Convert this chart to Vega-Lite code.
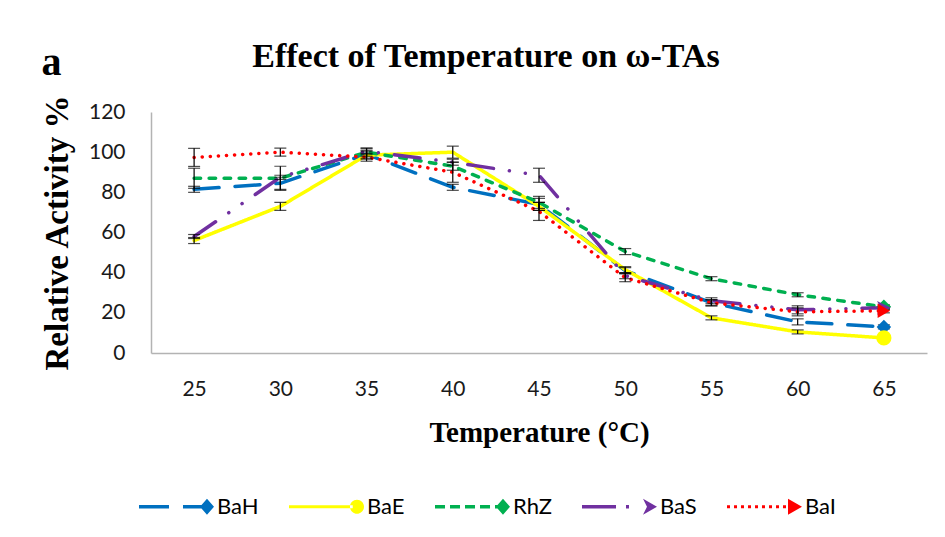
{
  "$schema": "https://vega.github.io/schema/vega-lite/v6.json",
  "background": "white",
  "padding": {"left": 41, "top": 40, "right": 5, "bottom": 5},
  "title": {"text": "a", "anchor": "start", "frame": "bounds", "font": "Liberation Serif", "fontSize": 40, "fontWeight": "bold", "color": "#000000", "offset": -43, "dx": 0},
  "config": {
    "view": {"stroke": null},
    "axis": {"domainColor": "#B3B3B3", "domainWidth": 1.5, "ticks": false, "grid": false, "labelFont": "Lato", "labelFontSize": 21, "labelColor": "#1a1a1a", "titleFont": "Liberation Serif", "titleFontWeight": "bold", "titleColor": "#000000"},
    "legend": {"labelFont": "Lato", "labelFontSize": 22, "labelColor": "#000000"}
  },
  "datasets": {
    "d": [
      {"temp": 25, "series": "BaH", "value": 81.5, "err": 1.5},
      {"temp": 30, "series": "BaH", "value": 84.5, "err": 3},
      {"temp": 35, "series": "BaH", "value": 99, "err": 2},
      {"temp": 40, "series": "BaH", "value": 82.5, "err": 1.5},
      {"temp": 45, "series": "BaH", "value": 74, "err": 3},
      {"temp": 50, "series": "BaH", "value": 41, "err": 1.5},
      {"temp": 55, "series": "BaH", "value": 25, "err": 1.5},
      {"temp": 60, "series": "BaH", "value": 15.5, "err": 1.5},
      {"temp": 65, "series": "BaH", "value": 13, "err": 1},
      {"temp": 25, "series": "BaE", "value": 56, "err": 1.5},
      {"temp": 30, "series": "BaE", "value": 73, "err": 2},
      {"temp": 35, "series": "BaE", "value": 98.5, "err": 2},
      {"temp": 40, "series": "BaE", "value": 100, "err": 3},
      {"temp": 45, "series": "BaE", "value": 73, "err": 2},
      {"temp": 50, "series": "BaE", "value": 41.5, "err": 1.5},
      {"temp": 55, "series": "BaE", "value": 17.5, "err": 1},
      {"temp": 60, "series": "BaE", "value": 10.5, "err": 1},
      {"temp": 65, "series": "BaE", "value": 7.5, "err": 1},
      {"temp": 25, "series": "RhZ", "value": 87, "err": 5},
      {"temp": 30, "series": "RhZ", "value": 87, "err": 6},
      {"temp": 35, "series": "RhZ", "value": 100, "err": 2},
      {"temp": 40, "series": "RhZ", "value": 93, "err": 2},
      {"temp": 45, "series": "RhZ", "value": 75, "err": 3},
      {"temp": 50, "series": "RhZ", "value": 50.5, "err": 1.5},
      {"temp": 55, "series": "RhZ", "value": 37, "err": 1},
      {"temp": 60, "series": "RhZ", "value": 29, "err": 1},
      {"temp": 65, "series": "RhZ", "value": 23, "err": 1},
      {"temp": 25, "series": "BaS", "value": 58, "err": 1},
      {"temp": 30, "series": "BaS", "value": 87.5, "err": 1},
      {"temp": 35, "series": "BaS", "value": 100.5, "err": 1.5},
      {"temp": 40, "series": "BaS", "value": 95, "err": 1.5},
      {"temp": 45, "series": "BaS", "value": 88.5, "err": 3.5},
      {"temp": 50, "series": "BaS", "value": 38.5, "err": 1.5},
      {"temp": 55, "series": "BaS", "value": 26, "err": 1.5},
      {"temp": 60, "series": "BaS", "value": 21.5, "err": 2},
      {"temp": 65, "series": "BaS", "value": 22.5, "err": 1},
      {"temp": 25, "series": "BaI", "value": 97.4, "err": 4.5},
      {"temp": 30, "series": "BaI", "value": 100, "err": 2},
      {"temp": 35, "series": "BaI", "value": 97.5, "err": 2},
      {"temp": 40, "series": "BaI", "value": 90, "err": 5},
      {"temp": 45, "series": "BaI", "value": 70.5, "err": 4.5},
      {"temp": 50, "series": "BaI", "value": 37.5, "err": 2},
      {"temp": 55, "series": "BaI", "value": 25, "err": 1.5},
      {"temp": 60, "series": "BaI", "value": 20.5, "err": 2},
      {"temp": 65, "series": "BaI", "value": 21, "err": 1}
    ]
  },
  "vconcat": [
    {
      "title": {"text": "Effect of Temperature on ω-TAs", "font": "Liberation Serif", "fontSize": 34, "fontWeight": "bold", "color": "#000000", "anchor": "middle", "frame": "group", "offset": 20, "dx": -53},
      "width": 776,
      "height": 241,
      "data": {"name": "d"},
      "encoding": {
        "x": {"field": "temp", "type": "ordinal", "scale": {"type": "point", "padding": 0.5}, "axis": {"labelAngle": 0, "labelPadding": 25, "title": "Temperature (°C)", "titleFontSize": 29, "titlePadding": 19}},
        "y": {"field": "value", "type": "quantitative", "scale": {"domain": [0, 120], "nice": false}, "axis": {"values": [0, 20, 40, 60, 80, 100, 120], "labelPadding": 26, "title": "Relative Activity %", "titleFontSize": 33, "titlePadding": 14}}
      },
      "layer": [
        {
          "mark": {"type": "line", "strokeWidth": 3.5, "strokeCap": "round", "strokeJoin": "round"},
          "encoding": {
            "stroke": {"field": "series", "type": "nominal", "scale": {"domain": ["BaH", "BaE", "RhZ", "BaS", "BaI"], "range": ["#0070C0", "#FFFF00", "#00B050", "#7030A0", "#FF0000"]}, "legend": {"title": null, "orient": "none", "direction": "horizontal", "legendX": -12, "legendY": 357, "symbolSize": 5625, "symbolStrokeWidth": 0, "symbolOpacity": 1, "columnPadding": 30, "labelOffset": 3}},
            "strokeDash": {"field": "series", "type": "nominal", "scale": {"domain": ["BaH", "BaE", "RhZ", "BaS", "BaI"], "range": [[25, 16], [1, 0], [6.5, 8.5], [26, 16, 0.1, 16, 0.1, 16], [0.1, 8]]}, "legend": {"title": null, "orient": "none", "direction": "horizontal", "legendX": -12, "legendY": 357, "symbolSize": 5625, "symbolStrokeWidth": 0, "symbolOpacity": 1, "columnPadding": 30, "labelOffset": 3}}
          }
        },
        {
          "mark": {"type": "errorbar", "color": "#000000", "thickness": 1.2, "ticks": {"size": 12, "color": "#000000", "thickness": 1.2}},
          "encoding": {"yError": {"field": "err"}}
        },
        {
          "transform": [{"filter": "datum.temp == 65 && datum.series == 'BaH'"}],
          "mark": {"type": "point", "filled": true, "shape": "diamond", "size": 210, "opacity": 1, "color": "#0070C0"}
        },
        {
          "transform": [{"filter": "datum.temp == 65 && datum.series == 'BaE'"}],
          "mark": {"type": "point", "filled": true, "shape": "circle", "size": 230, "opacity": 1, "color": "#FFFF00"}
        },
        {
          "transform": [{"filter": "datum.temp == 65 && datum.series == 'RhZ'"}],
          "mark": {"type": "point", "filled": true, "shape": "diamond", "size": 210, "opacity": 1, "color": "#00B050"}
        },
        {
          "transform": [{"filter": "datum.temp == 65 && datum.series == 'BaS'"}],
          "mark": {"type": "point", "filled": true, "shape": "M-1,-1L1,0L-1,1L-0.5,0Z", "size": 190, "opacity": 1, "color": "#7030A0"}
        },
        {
          "transform": [{"filter": "datum.temp == 65 && datum.series == 'BaI'"}],
          "mark": {"type": "point", "filled": true, "shape": "triangle-right", "size": 210, "opacity": 1, "color": "#FF0000"}
        },
        {
          "transform": [{"filter": "datum.temp == 70"}],
          "mark": {"type": "point", "filled": true},
          "encoding": {
            "fill": {"field": "series", "type": "nominal", "scale": {"domain": ["BaH", "BaE", "RhZ", "BaS", "BaI"], "range": ["#0070C0", "#FFFF00", "#00B050", "#7030A0", "#FF0000"]}, "legend": {"title": null, "orient": "none", "direction": "horizontal", "legendX": -12, "legendY": 357, "symbolSize": 5625, "symbolStrokeWidth": 0, "symbolOpacity": 1, "columnPadding": 30, "labelOffset": 3}},
            "shape": {"field": "series", "type": "nominal", "scale": {"domain": ["BaH", "BaE", "RhZ", "BaS", "BaI"], "range": [
              "M-1,-0.045H-0.2V0.045H-1Z M0.173,-0.045H0.76V0.045H0.173Z M0.813,-0.213L1,0L0.813,0.213L0.626,0Z",
              "M-1,-0.04H0.7V0.04H-1Z M0.626,0A0.187,0.187 0 1,0 1,0A0.187,0.187 0 1,0 0.626,0Z",
              "M-1,-0.045H-0.733V0.045H-1Z M-0.6,-0.045H-0.333V0.045H-0.6Z M-0.2,-0.045H0.067V0.045H-0.2Z M0.2,-0.045H0.467V0.045H0.2Z M0.6,-0.045H0.72V0.045H0.6Z M0.813,-0.213L1,0L0.813,0.213L0.626,0Z",
              "M-1,-0.045H-0.093V0.045H-1Z M0.173,-0.045H0.253V0.045H0.173Z M0.627,-0.213L1,0L0.627,0.213L0.733,0Z",
              "M-1,-0.04h0.08v0.08h-0.08Z M-0.813,-0.04h0.08v0.08h-0.08Z M-0.627,-0.04h0.08v0.08h-0.08Z M-0.44,-0.04h0.08v0.08h-0.08Z M-0.253,-0.04h0.08v0.08h-0.08Z M-0.067,-0.04h0.08v0.08h-0.08Z M0.12,-0.04h0.08v0.08h-0.08Z M0.307,-0.04h0.08v0.08h-0.08Z M0.493,-0.04h0.08v0.08h-0.08Z M0.627,-0.213L1,0L0.627,0.213Z"
            ]}, "legend": {"title": null, "orient": "none", "direction": "horizontal", "legendX": -12, "legendY": 357, "symbolSize": 5625, "symbolStrokeWidth": 0, "symbolOpacity": 1, "columnPadding": 30, "labelOffset": 3}}
          }
        }
      ]
    }
  ]
}
